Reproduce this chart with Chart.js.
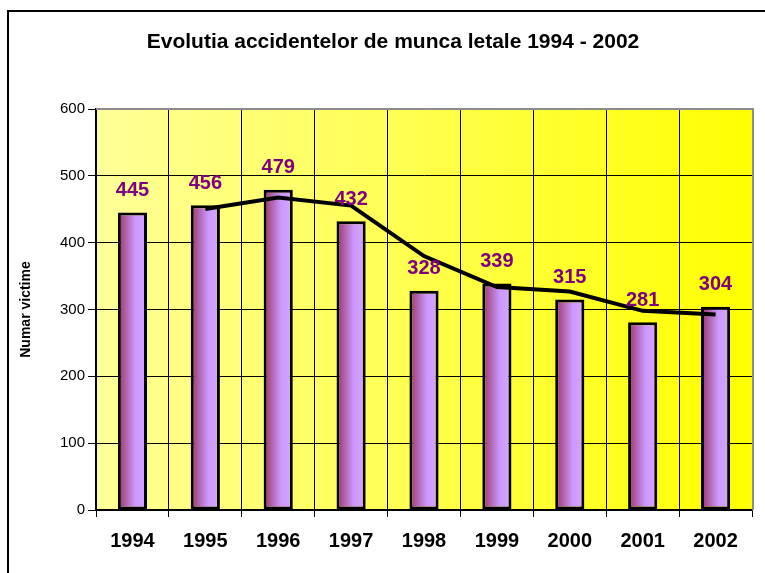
<!DOCTYPE html>
<html>
<head>
<meta charset="utf-8">
<script src="https://cdn.jsdelivr.net/npm/chart.js@4"></script>
<style>
  body { margin: 0; background: #fff; }
  canvas { display: block; }
</style>
</head>
<body>
<canvas id="accidentChart" width="765" height="573"></canvas>
<script>
const years = ["1994", "1995", "1996", "1997", "1998", "1999", "2000", "2001", "2002"];
const victims = [445, 456, 479, 432, 328, 339, 315, 281, 304];
// trend line (2 period moving average)
const trend = [null, 450.5, 467.5, 455.5, 380, 333.5, 327, 298, 292.5];
const yTicks = [0, 100, 200, 300, 400, 500, 600];

const FONT = "'Liberation Sans', Arial, sans-serif";
Chart.defaults.font.family = FONT;
Chart.defaults.color = "#000";

// frame, title and yellow plot background
const framePlugin = {
  id: "frame",
  beforeDraw(chart) {
    const ctx = chart.ctx;
    const a = chart.chartArea;
    ctx.save();
    ctx.fillStyle = "#fff";
    ctx.fillRect(0, 0, chart.width, chart.height);
    ctx.strokeStyle = "#000";
    ctx.lineWidth = 2;
    ctx.beginPath();
    ctx.moveTo(8, chart.height + 2);
    ctx.lineTo(8, 11);
    ctx.lineTo(chart.width + 2, 11);
    ctx.stroke();

    ctx.font = "bold 21px " + FONT;
    ctx.fillStyle = "#000";
    ctx.textAlign = "center";
    ctx.textBaseline = "middle";
    ctx.fillText("Evolutia accidentelor de munca letale 1994 - 2002", 393, 42);

    const g = ctx.createLinearGradient(a.left, 0, a.right, 0);
    g.addColorStop(0, "#ffff99");
    g.addColorStop(1, "#ffff00");
    ctx.fillStyle = g;
    ctx.fillRect(a.left, a.top, a.right - a.left, a.bottom - a.top);
    ctx.restore();
  },
  afterDraw(chart) {
    const ctx = chart.ctx;
    const a = chart.chartArea;
    ctx.save();
    // grey top and right border
    ctx.strokeStyle = "#8c8c8c";
    ctx.lineWidth = 2;
    ctx.beginPath();
    ctx.moveTo(a.left, a.top);
    ctx.lineTo(a.right + 1, a.top);
    ctx.lineTo(a.right + 1, a.bottom);
    ctx.stroke();
    // value labels above the bars
    ctx.font = "bold 20px " + FONT;
    ctx.fillStyle = "#800080";
    ctx.textAlign = "center";
    ctx.textBaseline = "middle";
    chart.getDatasetMeta(1).data.forEach((bar, i) => {
      ctx.fillText(victims[i], bar.x, bar.y - 22);
    });
    ctx.restore();
  }
};

function barFill(context) {
  const chart = context.chart;
  if (!chart.chartArea || context.dataIndex === undefined) return "#cc99ff";
  const x = chart.scales.x;
  const w = (chart.chartArea.right - chart.chartArea.left) / years.length * 0.4;
  const cx = x.getPixelForValue(context.dataIndex);
  const g = chart.ctx.createLinearGradient(cx - w / 2, 0, cx + w / 2, 0);
  g.addColorStop(0, "#993366");
  g.addColorStop(0.6, "#cc99ff");
  g.addColorStop(1, "#d4a6ff");
  return g;
}

new Chart(document.getElementById("accidentChart"), {
  type: "bar",
  data: {
    labels: years,
    datasets: [
      {
        type: "line",
        data: trend,
        borderColor: "#000",
        borderWidth: 4,
        pointRadius: 0,
        tension: 0,
        order: 0
      },
      {
        data: victims,
        backgroundColor: barFill,
        borderColor: "#000",
        borderWidth: 3,
        borderSkipped: false,
        barPercentage: 0.4,
        categoryPercentage: 1,
        order: 1
      }
    ]
  },
  options: {
    responsive: false,
    animation: false,
    layout: { padding: { left: 0, right: 13, top: 109, bottom: 0 } },
    plugins: {
      legend: { display: false },
      tooltip: { enabled: false }
    },
    scales: {
      x: {
        afterFit(scale) { scale.height = 63; },
        grid: { color: "#000", lineWidth: 1, tickLength: 7, offset: true },
        border: { color: "#000", width: 1.5 },
        ticks: { font: { size: 20, weight: "bold" }, padding: 12, maxRotation: 0 }
      },
      y: {
        min: 0,
        max: 600,
        afterFit(scale) { scale.width = 96; },
        afterBuildTicks(scale) { scale.ticks = yTicks.map(v => ({ value: v })); },
        grid: { color: "#000", lineWidth: 1, tickLength: 8 },
        border: { color: "#000", width: 1.5 },
        ticks: { font: { size: 15 }, padding: 3 },
        title: {
          display: true,
          text: "Numar victime",
          font: { size: 14, weight: "bold" },
          padding: { top: 18, bottom: 0 }
        }
      }
    }
  },
  plugins: [framePlugin]
});
</script>
</body>
</html>
